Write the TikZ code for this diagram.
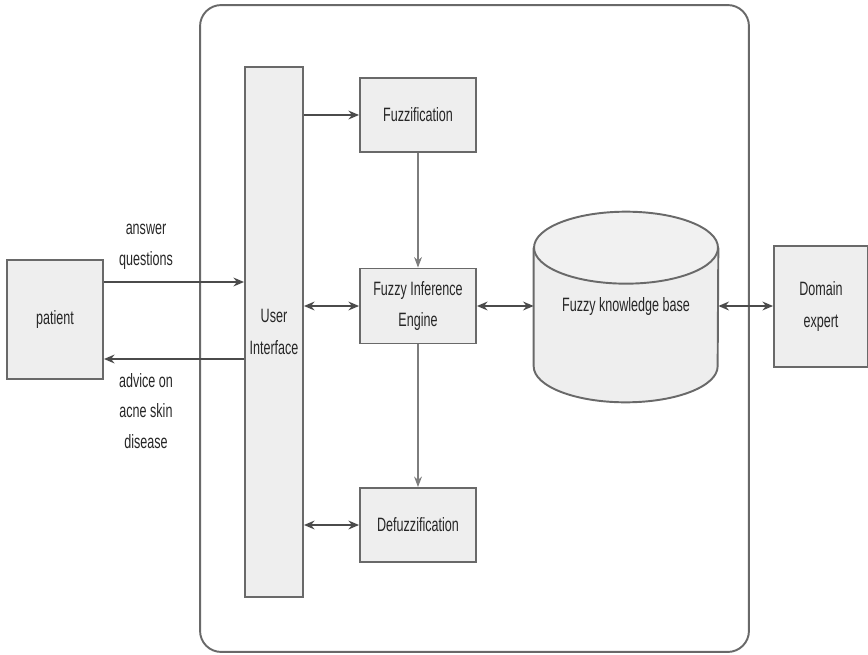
\documentclass[tikz,border=0pt]{standalone}
\usepackage{fontspec}
\setmainfont{Liberation Sans}[FakeStretch=0.65]
\definecolor{edgegray}{RGB}{105, 105, 105}
\definecolor{arrowgray}{RGB}{75, 75, 75}
\definecolor{linegray}{RGB}{125, 125, 125}
\definecolor{boxfill}{RGB}{238, 238, 238}
\usetikzlibrary{arrows.meta, positioning, calc}
\tikzset{
  block/.style={draw=edgegray, line width=1.1pt, fill=boxfill, inner sep=0pt, align=center, font=\fontsize{11}{18}\selectfont, text=black!85},
  arr/.style={line width=1.2pt, arrowgray, -{Stealth[length=6pt, width=5pt]}},
  biarr/.style={line width=1.2pt, arrowgray, {Stealth[length=6pt, width=5pt]}-{Stealth[length=6pt, width=5pt]}},
  thinarr/.style={line width=0.6pt, linegray, -{Stealth[length=6pt, width=4.5pt]}},
  lbl/.style={align=center, font=\fontsize{11}{17.5}\selectfont, text=black!85}
}

\begin{document}
\begin{tikzpicture}[x=0.02cm, y=-0.02cm]
  \useasboundingbox (0, 0) rectangle (868, 655);

  % System frame
  \node[draw=edgegray, line width=1.1pt, rounded corners=12pt, minimum width=10.98cm, minimum height=12.94cm] (frame) at (474.5, 328.5) {};

  % Blocks
  \node[block, minimum width=1.92cm, minimum height=2.38cm] (patient) at (55, 319.5) {patient};
  \node[block, minimum width=1.16cm, minimum height=10.6cm] (ui) at (274, 332) {User\\Interface};
  \node[block, minimum width=2.32cm, minimum height=1.48cm] (fuzz) at (418, 115) {Fuzzification};
  \node[block, minimum width=2.32cm, minimum height=1.5cm] (fie) at (418, 306) {Fuzzy Inference\\Engine};
  \node[block, minimum width=2.32cm, minimum height=1.48cm] (defuzz) at (418, 525) {Defuzzification};
  \node[block, minimum width=1.88cm, minimum height=2.42cm] (expert) at (821, 306.5) {Domain\\expert};

  % Knowledge base cylinder
  \node[inner sep=0pt, minimum width=3.68cm, minimum height=3.8cm] (kb) at (626, 307) {};
  \fill[boxfill] ($(kb.north west)+(0, 36)$) -- ($(kb.south west)+(0, -36)$)
    arc[start angle=180, end angle=360, x radius=1.84cm, y radius=0.72cm]
    -- ($(kb.north east)+(0, 36)$) -- cycle;
  \fill[boxfill!80] ($(kb.north)+(0, 36)$) ellipse [x radius=1.84cm, y radius=0.72cm];
  \draw[edgegray, line width=1.1pt] ($(kb.north west)+(0, 36)$) -- ($(kb.south west)+(0, -36)$)
    arc[start angle=180, end angle=360, x radius=1.84cm, y radius=0.72cm]
    -- ($(kb.north east)+(0, 36)$);
  \draw[edgegray, line width=1.1pt] ($(kb.north)+(0, 36)$) ellipse [x radius=1.84cm, y radius=0.72cm];
  \node[lbl] at (kb.center) {Fuzzy knowledge base};

  % Patient dialogue
  \coordinate (ask) at ($(patient.east)+(0, -37.5)$);
  \coordinate (tell) at ($(patient.east)+(0, 39.5)$);
  \draw[arr] (ask) -- (ask -| ui.west);
  \draw[arr] (tell -| ui.west) -- (tell);
  \node[lbl] (asklbl) at (146, 247) {answer\\questions};
  \node[lbl] (telllbl) at (146, 411) {advice on\\acne skin\\disease};

  % Interface links
  \draw[arr] (ui.east |- fuzz.west) -- (fuzz.west);
  \draw[biarr] (ui.east |- fie.west) -- (fie.west);
  \draw[biarr] (ui.east |- defuzz.west) -- (defuzz.west);

  % Inference chain
  \draw[thinarr] (fuzz.south) -- (fie.north);
  \draw[thinarr] (fie.south) -- (defuzz.north);
  \draw[biarr] (fie.east) -- (kb.west |- fie.east);
  \draw[biarr] (kb.east |- fie.east) -- (expert.west |- fie.east);
\end{tikzpicture}
\end{document}
